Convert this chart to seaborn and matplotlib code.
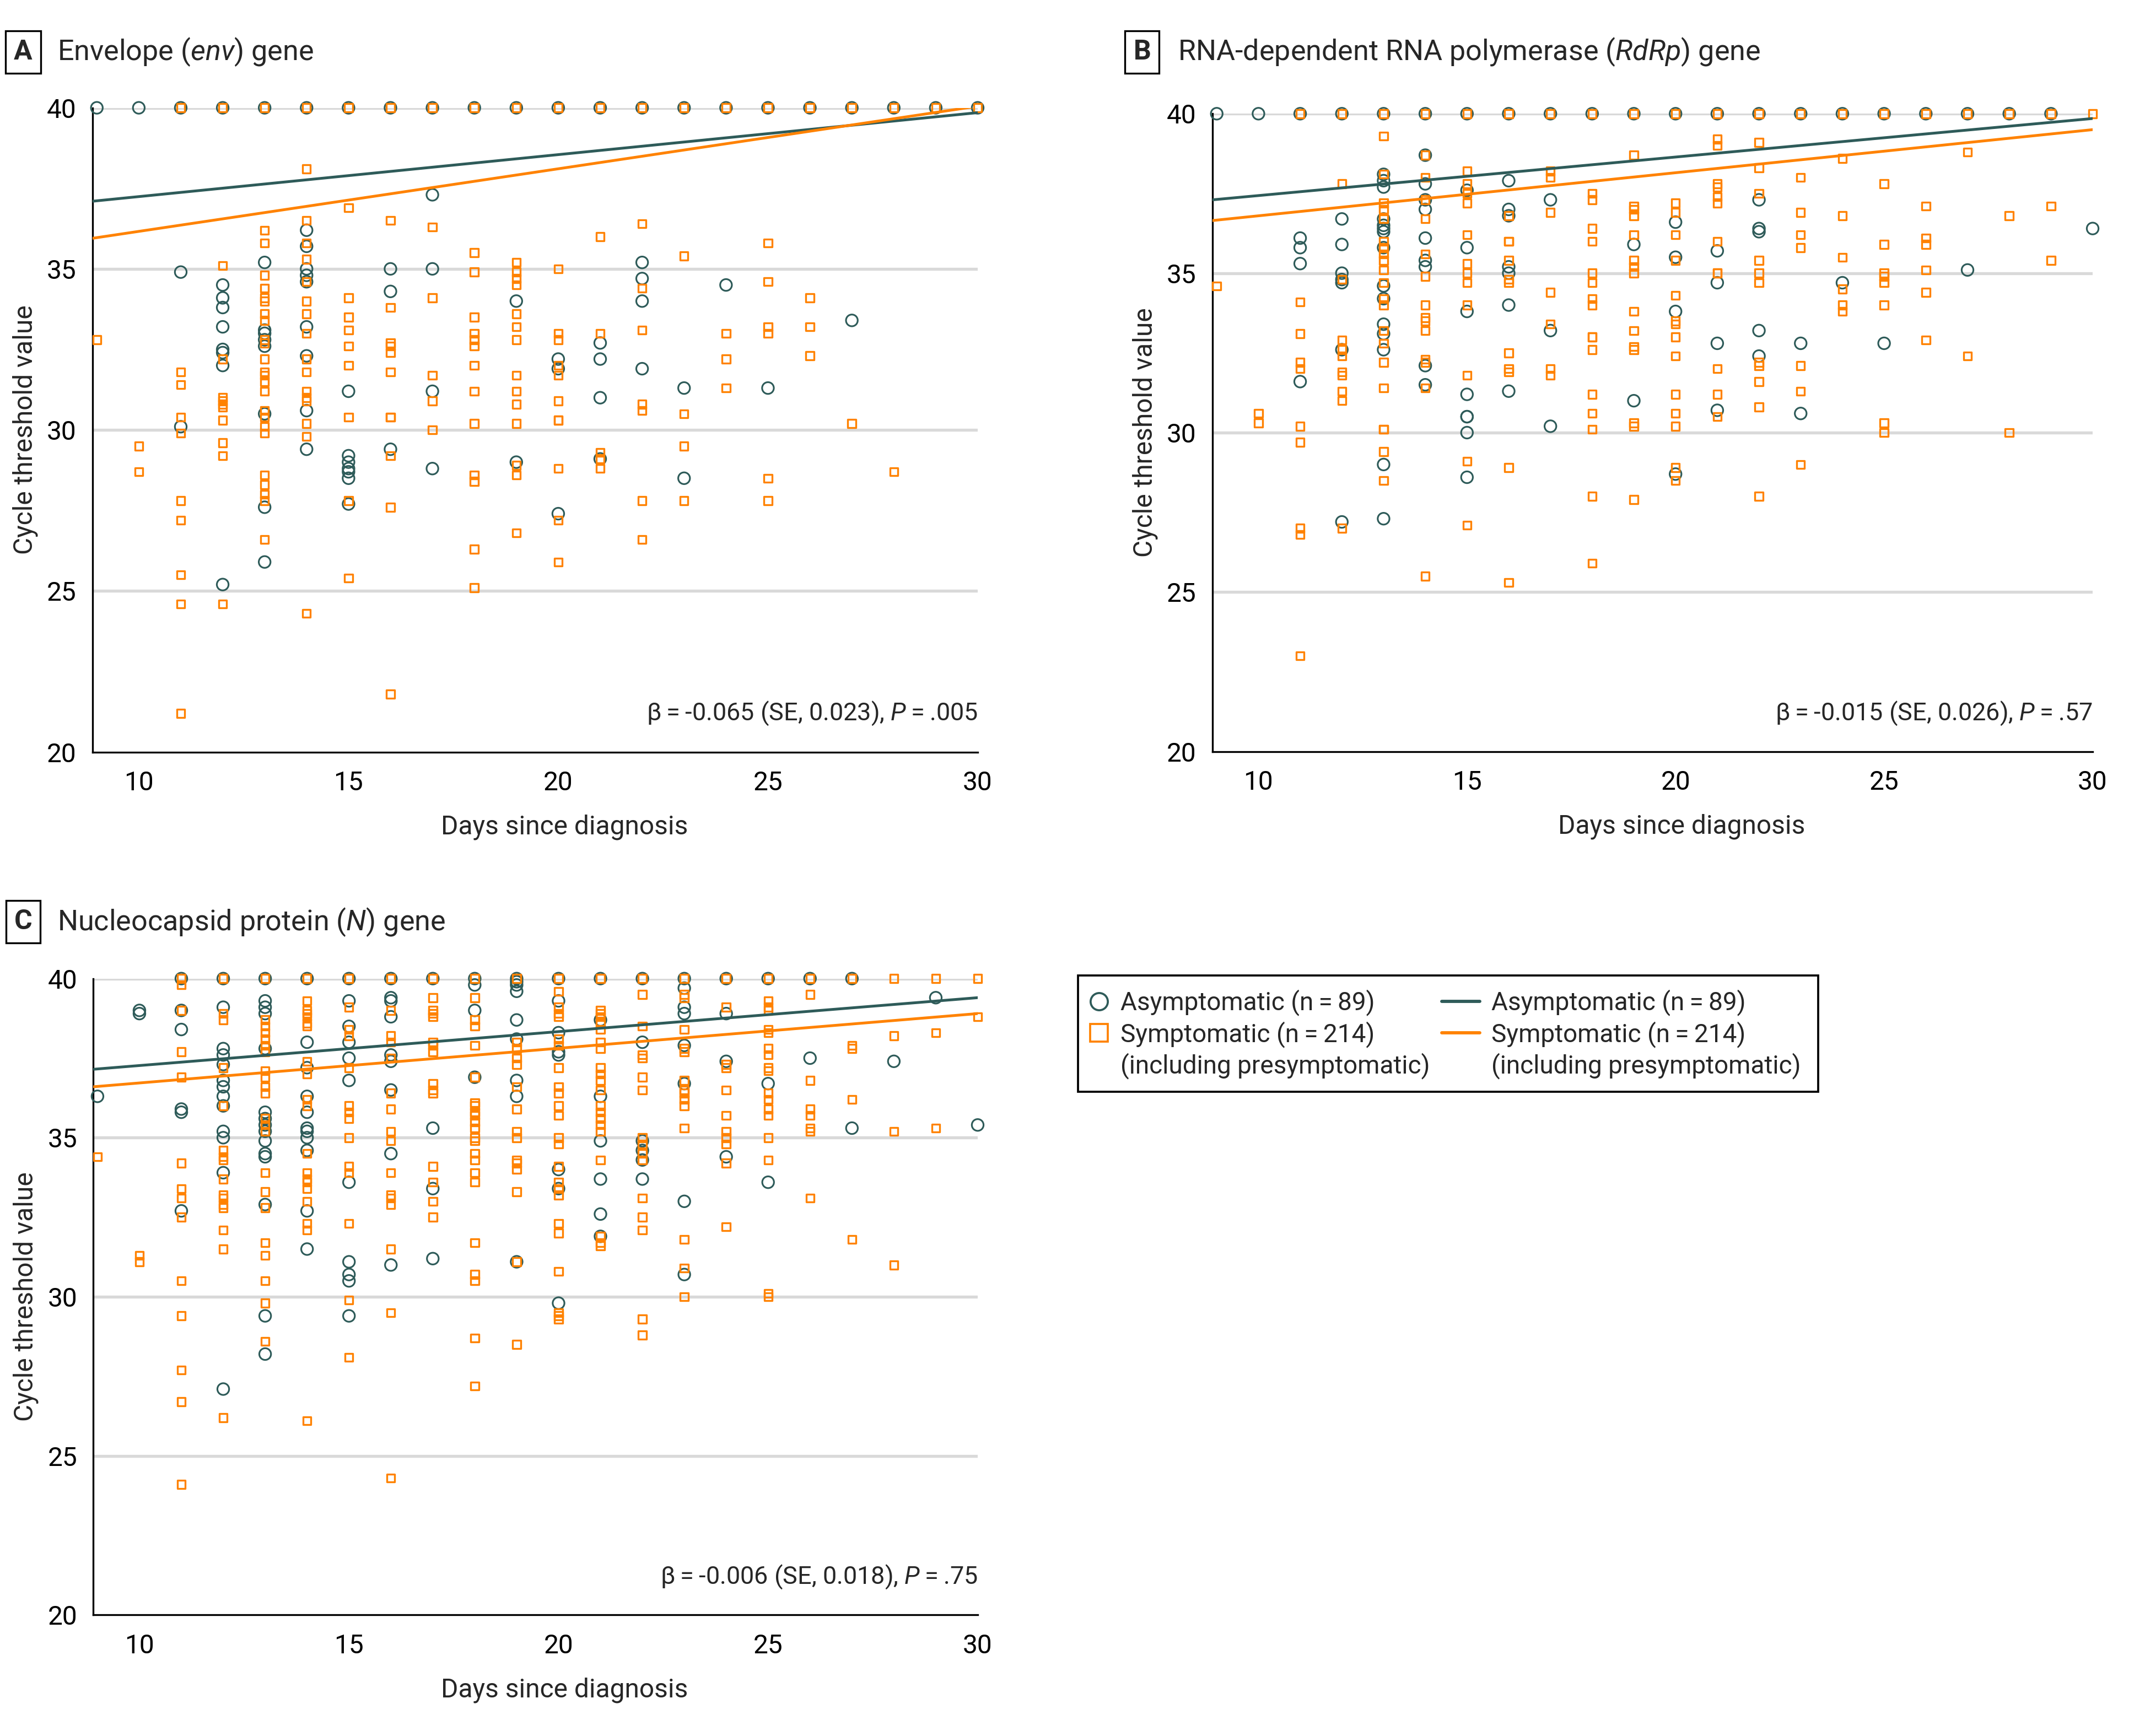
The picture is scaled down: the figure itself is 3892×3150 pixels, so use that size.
import matplotlib
matplotlib.use("Agg")
import matplotlib.pyplot as plt
from matplotlib.lines import Line2D
from matplotlib.patches import Rectangle
import pandas as pd
import seaborn as sns

TEAL = "#2E5B59"
ORANGE = "#FF8200"
GRID = "#D9D9D9"

# days since diagnosis, one entry per column of points (9..30)
days = list(range(9, 31))
fit_days = [8.9, 30]

# ---- Panel A: envelope (env) gene, Ct values per day ----
A_asym = [
    [40], [40], [40, 34.9, 30.1],
    [40, 34.5, 34.1, 33.8, 33.2, 32.5, 32.4, 32.0, 25.2],
    [40, 35.2, 33.1, 33.0, 32.8, 32.6, 30.5, 27.6, 25.9],
    [40, 36.2, 35.7, 35.0, 34.8, 34.6, 33.2, 32.3, 30.6, 29.4],
    [40, 31.2, 29.2, 29.0, 28.8, 28.7, 28.5, 27.7],
    [40, 35.0, 34.3, 29.4],
    [40, 37.3, 35.0, 31.2, 28.8],
    [40], [40, 34.0, 29.0], [40, 32.2, 31.9, 27.4],
    [40, 32.7, 32.2, 31.0, 29.1], [40, 35.2, 34.7, 34.0, 31.9],
    [40, 31.3, 28.5], [40, 34.5], [40, 31.3], [40], [40, 33.4],
    [40], [40], [40],
]
A_sym = [
    [32.8], [29.5, 28.7],
    [40, 31.8, 31.4, 30.4, 29.9, 27.8, 27.2, 25.5, 24.6, 21.2],
    [40, 35.1, 32.2, 31.0, 30.9, 30.8, 30.7, 30.3, 29.6, 29.2, 24.6],
    [40, 36.2, 35.8, 34.8, 34.4, 34.1, 34.0, 33.6, 33.4, 32.8, 32.7, 32.2, 31.8,
     31.7, 31.5, 31.2, 30.6, 30.4, 30.1, 29.9, 28.6, 28.3, 28.0, 27.8, 26.6],
    [40, 38.1, 36.5, 35.8, 35.3, 34.6, 34.0, 33.6, 33.0, 32.2, 31.8, 31.2, 31.0,
     30.9, 30.2, 29.8, 24.3],
    [40, 36.9, 34.1, 33.5, 33.1, 32.6, 32.0, 30.4, 27.8, 25.4],
    [40, 36.5, 33.8, 32.7, 32.6, 32.4, 31.8, 30.4, 30.4, 29.2, 27.6, 21.8],
    [40, 36.3, 34.1, 31.7, 30.9, 30.0],
    [40, 35.5, 34.9, 33.5, 33.0, 32.8, 32.6, 32.0, 31.2, 30.2, 28.6, 28.4, 26.3, 25.1],
    [40, 35.2, 34.9, 34.7, 34.5, 33.6, 33.2, 32.8, 31.7, 31.2, 30.8, 30.2, 28.9,
     28.6, 26.8],
    [40, 35.0, 33.0, 32.8, 32.0, 31.7, 30.9, 30.3, 30.3, 28.8, 27.2, 25.9],
    [40, 36.0, 33.0, 29.3, 29.1, 28.8],
    [40, 36.4, 34.4, 33.1, 30.8, 30.6, 27.8, 26.6],
    [40, 35.4, 30.5, 29.5, 27.8],
    [40, 33.0, 32.2, 31.3],
    [40, 35.8, 34.6, 33.2, 33.0, 28.5, 27.8],
    [40, 34.1, 33.2, 32.3],
    [40, 30.2], [40, 28.7], [40], [40],
]
A_asym_fit = [37.1, 39.85]
A_sym_fit = [35.95, 40.05]

# ---- Panel B: RdRp gene ----
B_asym = [
    [40], [40], [40, 36.1, 35.8, 35.3, 31.6],
    [40, 36.7, 35.9, 35.0, 34.8, 34.7, 32.6, 27.2],
    [40, 38.1, 37.9, 37.7, 36.7, 36.5, 36.4, 36.3, 35.8, 34.6, 34.2, 33.4, 33.1,
     32.6, 29.0, 27.3],
    [40, 38.7, 37.8, 37.3, 37.0, 36.1, 35.4, 35.2, 32.1, 31.5],
    [40, 37.6, 35.8, 33.8, 31.2, 30.5, 30.5, 30.0, 28.6],
    [40, 37.9, 37.0, 36.8, 35.2, 35.0, 34.0, 31.3],
    [40, 37.3, 33.2, 30.2],
    [40], [40, 35.9, 31.0], [40, 36.6, 35.5, 33.8, 28.7],
    [40, 35.7, 34.7, 32.8, 30.7], [40, 37.3, 36.4, 36.3, 33.2, 32.4],
    [40, 32.8, 30.6], [40, 34.7], [40, 32.8], [40], [40, 35.1],
    [40], [40], [36.4],
]
B_sym = [
    [34.6], [30.6, 30.3],
    [40, 34.1, 33.1, 32.2, 32.0, 30.2, 29.7, 27.0, 26.8, 23.0],
    [40, 37.8, 34.8, 32.9, 32.6, 32.4, 31.9, 31.8, 31.3, 31.0, 27.0],
    [40, 39.3, 38.1, 37.2, 37.0, 36.7, 36.0, 35.8, 35.6, 35.4, 35.1, 34.7, 34.2,
     34.0, 33.2, 32.8, 32.2, 31.4, 30.1, 30.1, 29.4, 28.5],
    [40, 38.7, 38.0, 37.3, 36.7, 35.6, 34.9, 34.0, 33.6, 33.5, 33.2, 32.3, 32.2,
     31.4, 25.5],
    [40, 38.2, 37.8, 37.5, 37.2, 36.2, 35.3, 35.0, 34.7, 34.0, 31.8, 29.1, 27.1],
    [40, 36.8, 36.0, 36.0, 35.4, 34.8, 34.7, 32.5, 32.0, 31.9, 28.9, 25.3],
    [40, 38.2, 38.0, 36.9, 34.4, 33.4, 32.0, 31.8],
    [40, 37.5, 37.3, 36.4, 36.0, 35.0, 34.7, 34.2, 34.0, 33.0, 33.0, 32.6, 31.2,
     30.6, 30.1, 28.0, 25.9],
    [40, 38.7, 37.1, 37.0, 36.8, 36.2, 35.4, 35.2, 35.0, 33.8, 33.2, 32.7, 32.6,
     30.3, 30.2, 27.9],
    [40, 37.2, 36.9, 36.2, 35.4, 34.3, 33.5, 33.4, 33.0, 32.4, 31.2, 30.6, 30.2,
     28.9, 28.5],
    [40, 39.2, 39.0, 37.8, 37.7, 37.4, 37.2, 36.0, 35.0, 35.0, 32.0, 31.2, 30.5],
    [40, 39.1, 38.3, 37.5, 35.4, 35.0, 34.7, 32.2, 32.1, 31.6, 30.8, 28.0],
    [40, 38.0, 36.9, 36.2, 35.8, 32.1, 31.3, 29.0],
    [40, 38.6, 36.8, 35.5, 34.5, 34.0, 33.8],
    [40, 37.8, 35.9, 35.0, 34.9, 34.7, 34.0, 30.3, 30.0],
    [40, 37.1, 36.1, 35.9, 35.1, 34.4, 32.9],
    [40, 38.8, 32.4], [40, 36.8, 30.0], [40, 37.1, 35.4], [40],
]
B_asym_fit = [37.3, 39.85]
B_sym_fit = [36.65, 39.5]

# ---- Panel C: nucleocapsid protein (N) gene ----
C_asym = [
    [36.3], [39.0, 38.9], [40, 39.0, 38.4, 35.9, 35.8, 32.7],
    [40, 39.1, 37.8, 37.6, 37.3, 36.8, 36.6, 36.3, 36.0, 35.2, 35.0, 33.9, 27.1],
    [40, 39.3, 39.1, 38.9, 37.8, 35.8, 35.6, 35.4, 35.2, 34.9, 34.5, 34.4, 32.9,
     29.4, 28.2],
    [40, 38.0, 37.2, 36.3, 35.8, 35.3, 35.2, 35.0, 34.6, 32.7, 31.5],
    [40, 39.3, 38.5, 38.0, 37.5, 36.8, 33.6, 31.1, 30.7, 30.5, 29.4],
    [40, 39.4, 39.3, 38.8, 37.6, 37.4, 36.5, 34.5, 31.0],
    [40, 35.3, 33.4, 31.2],
    [40, 39.8, 39.0, 36.9],
    [40, 39.9, 39.8, 39.6, 38.7, 38.1, 36.8, 36.3, 31.1],
    [40, 39.3, 38.3, 37.7, 37.6, 34.0, 33.4, 29.8],
    [40, 38.7, 36.3, 34.9, 33.7, 32.6, 31.9],
    [40, 38.0, 34.9, 34.6, 34.3, 33.7],
    [40, 39.7, 39.1, 38.9, 37.9, 36.7, 33.0, 30.7],
    [40, 38.9, 37.4, 34.4], [40, 36.7, 33.6], [40, 37.5], [40, 35.3],
    [37.4], [39.4], [35.4],
]
C_sym = [
    [34.4], [31.3, 31.1],
    [40, 39.8, 39.0, 37.7, 36.9, 34.2, 33.4, 33.1, 32.5, 30.5, 29.4, 27.7, 26.7, 24.1],
    [40, 38.9, 38.7, 37.2, 36.0, 34.6, 34.4, 34.3, 33.7, 33.2, 33.1, 32.9, 32.8,
     32.1, 31.5, 26.2],
    [40, 38.7, 38.5, 38.3, 38.1, 37.9, 37.7, 37.1, 36.9, 36.6, 36.4, 35.6, 35.4,
     35.2, 33.9, 33.3, 32.8, 31.7, 31.3, 30.5, 29.8, 28.6],
    [40, 39.3, 39.0, 38.9, 38.8, 38.6, 38.5, 37.4, 37.0, 36.2, 36.0, 34.5, 33.9,
     33.7, 33.6, 33.4, 33.0, 32.3, 32.1, 26.1],
    [40, 39.1, 38.4, 38.2, 37.2, 36.0, 35.8, 35.6, 35.0, 34.1, 33.9, 32.3, 29.9, 28.1],
    [40, 39.0, 38.2, 38.0, 37.5, 36.4, 35.9, 35.2, 34.9, 33.9, 33.2, 33.1, 32.9,
     31.5, 29.5, 24.3],
    [40, 39.4, 39.0, 38.9, 38.8, 38.0, 37.9, 37.7, 36.7, 36.5, 36.4, 34.1, 33.6,
     33.0, 32.5],
    [40, 39.4, 38.7, 38.5, 37.9, 36.9, 36.1, 36.0, 35.8, 35.7, 35.5, 35.3, 35.0,
     34.9, 34.5, 34.3, 33.9, 33.6, 31.7, 30.7, 30.5, 28.7, 27.2],
    [40, 38.0, 37.8, 37.5, 37.3, 36.6, 35.9, 35.2, 35.0, 34.3, 34.2, 34.0, 33.3,
     31.1, 28.5],
    [40, 39.6, 39.1, 38.9, 38.8, 38.1, 37.9, 37.2, 36.6, 36.4, 36.0, 35.7, 35.0,
     34.8, 34.1, 33.6, 33.4, 33.2, 32.3, 32.0, 30.8, 29.5, 29.4, 29.3],
    [40, 39.0, 38.9, 38.8, 38.6, 38.4, 38.0, 37.8, 37.2, 37.0, 36.8, 36.5, 36.0,
     35.8, 35.6, 35.4, 35.2, 34.3, 31.9, 31.7, 31.6],
    [40, 39.5, 38.5, 37.6, 37.5, 36.9, 36.5, 35.0, 34.8, 34.5, 34.3, 33.1, 32.5,
     32.1, 29.3, 28.8],
    [40, 39.5, 39.4, 38.4, 37.8, 37.7, 36.8, 36.5, 36.4, 36.2, 36.0, 35.3, 31.8,
     30.9, 30.0],
    [40, 39.1, 37.3, 37.2, 36.5, 35.7, 35.2, 35.0, 34.8, 34.2, 32.2],
    [40, 39.3, 39.1, 39.0, 38.4, 38.3, 37.8, 37.6, 37.2, 37.1, 36.4, 36.2, 35.9,
     35.7, 35.0, 34.3, 30.1, 30.0],
    [40, 39.5, 36.8, 35.9, 35.7, 35.3, 35.2, 33.1],
    [40, 37.9, 37.8, 36.2, 31.8],
    [40, 38.2, 35.2, 31.0],
    [40, 38.3, 35.3],
    [40, 38.8],
]
C_asym_fit = [37.15, 39.4]
C_sym_fit = [36.6, 38.9]

titles = [("A", "Envelope ($\\mathit{env}$) gene"),
          ("B", "RNA-dependent RNA polymerase ($\\mathit{RdRp}$) gene"),
          ("C", "Nucleocapsid protein ($\\mathit{N}$) gene")]
stats = ["β\u2009=\u2009-0.065 (SE, 0.023), $\\mathit{P}$\u2009=\u2009.005",
         "β\u2009=\u2009-0.015 (SE, 0.026), $\\mathit{P}$\u2009=\u2009.57",
         "β\u2009=\u2009-0.006 (SE, 0.018), $\\mathit{P}$\u2009=\u2009.75"]
legend_labels = ["Asymptomatic (n\u2009=\u200989)",
                 "Symptomatic (n\u2009=\u2009214)",
                 "(including presymptomatic)"]


def to_frame(per_day):
    rows = []
    for d, vals in zip(days, per_day):
        for v in vals:
            rows.append({"Day": d, "Ct": v})
    return pd.DataFrame(rows)


sns.set_style("white")
plt.rcParams["font.family"] = ["Roboto", "DejaVu Sans"]
plt.rcParams["mathtext.fontset"] = "custom"
plt.rcParams["mathtext.rm"] = "Roboto"
plt.rcParams["mathtext.it"] = "Roboto:italic"

fig = plt.figure(figsize=(3892 / 300, 3150 / 300), dpi=300)

ax_a = fig.add_axes([0.0432, 0.5668, 0.4126, 0.3711])
ax_b = fig.add_axes([0.5653, 0.5671, 0.4103, 0.3674])
ax_c = fig.add_axes([0.0435, 0.0697, 0.4123, 0.3666])


def draw_panel(ax, asym, sym, asym_fit, sym_fit, stat):
    ax.set_xlim(8.9, 30)
    ax.set_ylim(20, 40)
    for yv in [25, 30, 35, 40]:
        ax.axhline(yv, color=GRID, lw=1.3, zorder=0)
    da = to_frame(asym)
    ds = to_frame(sym)
    sns.scatterplot(data=da, x="Day", y="Ct", marker="o", s=26,
                    facecolors="none", edgecolor=TEAL, linewidth=0.75,
                    clip_on=False, zorder=3, ax=ax, legend=False)
    sns.scatterplot(data=ds, x="Day", y="Ct", marker="s", s=12,
                    facecolors="none", edgecolor=ORANGE, linewidth=0.8,
                    clip_on=False, zorder=4, ax=ax, legend=False)
    sns.lineplot(x=fit_days, y=asym_fit, color=TEAL, lw=1.2, ax=ax, zorder=5)
    sns.lineplot(x=fit_days, y=sym_fit, color=ORANGE, lw=1.2, ax=ax, zorder=5)
    ax.set_xticks([10, 15, 20, 25, 30])
    ax.set_yticks([20, 25, 30, 35, 40])
    ax.tick_params(axis="both", direction="out", length=4, width=0.8,
                   labelsize=11.5, color="black", labelcolor="black")
    ax.tick_params(axis="x", pad=4)
    ax.tick_params(axis="y", pad=3)
    for side in ["top", "right"]:
        ax.spines[side].set_visible(False)
    for side in ["left", "bottom"]:
        ax.spines[side].set_color("black")
        ax.spines[side].set_linewidth(0.8)
    ax.set_xlabel("Days since diagnosis", fontsize=11.5, labelpad=8, x=0.533)
    ax.set_ylabel("Cycle threshold value", fontsize=11.5, labelpad=4)
    ax.text(30, 21.2, stat, ha="right", va="center", fontsize=10.8)


draw_panel(ax_a, A_asym, A_sym, A_asym_fit, A_sym_fit, stats[0])
draw_panel(ax_b, B_asym, B_sym, B_asym_fit, B_sym_fit, stats[1])
draw_panel(ax_c, C_asym, C_sym, C_asym_fit, C_sym_fit, stats[2])

# panel letters and titles
title_pos = [(0.0108, 0.0268, 0.970), (0.5325, 0.5491, 0.970), (0.0108, 0.0268, 0.4689)]
for (letter, title), (lx, tx, ty) in zip(titles, title_pos):
    fig.text(lx, ty, letter, ha="center", va="center", fontsize=12,
             fontweight="bold",
             bbox=dict(boxstyle="square,pad=0.3", facecolor="white",
                       edgecolor="black", linewidth=0.8))
    fig.text(tx, ty, title, ha="left", va="center", fontsize=12.5)

# legend: markers column and lines column inside one shared frame
blank = Line2D([], [], linestyle="none")
marker_handles = [
    Line2D([], [], marker="o", linestyle="none", markerfacecolor="none",
           markeredgecolor=TEAL, markersize=7.5, markeredgewidth=0.9),
    Line2D([], [], marker="s", linestyle="none", markerfacecolor="none",
           markeredgecolor=ORANGE, markersize=7.5, markeredgewidth=0.9),
    blank,
]
line_handles = [
    Line2D([], [], color=TEAL, lw=1.4),
    Line2D([], [], color=ORANGE, lw=1.4),
    blank,
]
leg_kw = dict(loc="upper left", frameon=False, fontsize=11, handletextpad=0.45,
              borderpad=0, labelspacing=0.2, borderaxespad=0)
leg1 = fig.legend(marker_handles, legend_labels, bbox_to_anchor=(0.5077, 0.4300),
                  handlelength=0.8, **leg_kw)
leg2 = fig.legend(line_handles, legend_labels, bbox_to_anchor=(0.6722, 0.4300),
                  handlelength=1.5, **leg_kw)
fig.patches.append(Rectangle((0.5026, 0.3712), 0.3450, 0.0669,
                             transform=fig.transFigure, fill=False,
                             edgecolor="black", linewidth=0.9))

fig.savefig("out.png", dpi=300)
